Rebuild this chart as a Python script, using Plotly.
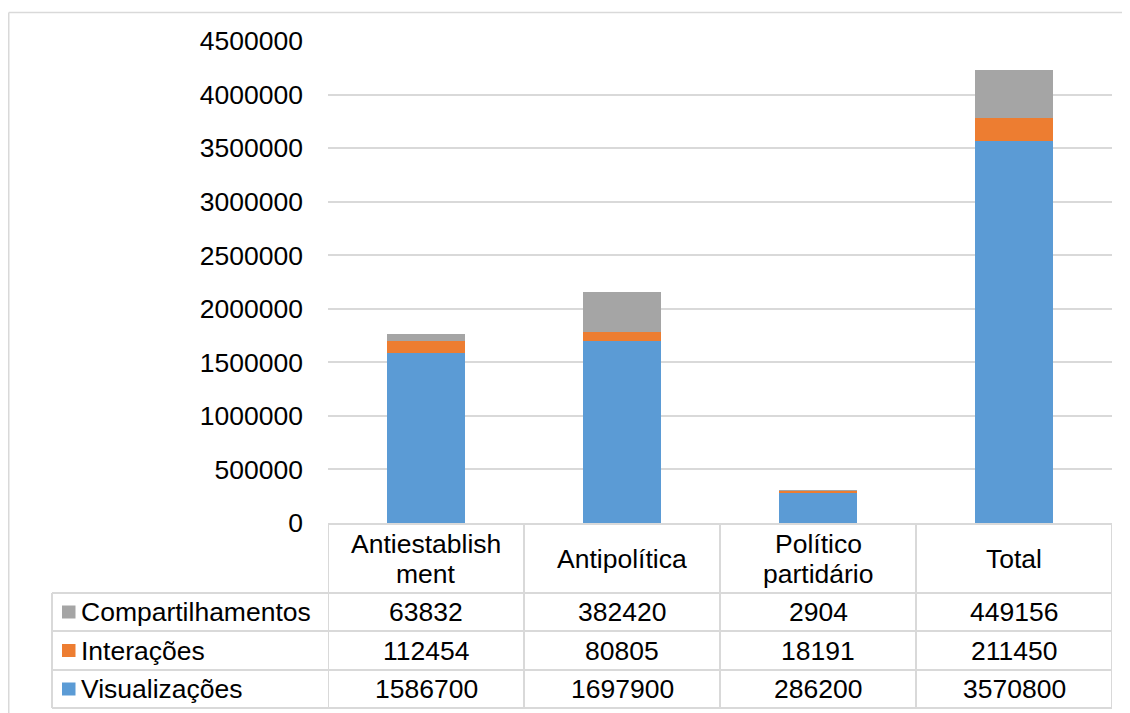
import plotly.graph_objects as go

categories = ["Antiestablishment", "Antipolítica", "Político partidário", "Total"]
category_lines = [["Antiestablish", "ment"], ["Antipolítica"], ["Político", "partidário"], ["Total"]]
series_names = ["Visualizações", "Interações", "Compartilhamentos"]
visualizacoes = [1586700, 1697900, 286200, 3570800]
interacoes = [112454, 80805, 18191, 211450]
compartilhamentos = [63832, 382420, 2904, 449156]
y_ticks = [0, 500000, 1000000, 1500000, 2000000, 2500000, 3000000, 3500000, 4000000, 4500000]

colors = {"Visualizações": "#5B9BD5", "Interações": "#ED7D31", "Compartilhamentos": "#A5A5A5"}
values = {"Visualizações": visualizacoes, "Interações": interacoes, "Compartilhamentos": compartilhamentos}

# page body has an 8px default margin; work in page pixels and offset
OFF = 8
W, H = 1130 - OFF, 713 - OFF
plot_left, plot_right, plot_top, plot_bottom = 328, 1112, 41, 523  # page pixels
L = plot_left - OFF
R = (W + OFF) - plot_right
T = plot_top - OFF
B = (H + OFF) - plot_bottom
PW = W - L - R
PH = H - T - B
FONT = "Liberation Sans, Arial, sans-serif"
FS = 26.5
GRID = "#D9D9D9"


def px_x(px):
    return (px - plot_left) / PW


def px_y(py):
    return (plot_bottom - py) / PH


fig = go.Figure()
for name in series_names:
    fig.add_trace(go.Bar(
        x=categories, y=values[name], name=name,
        marker=dict(color=colors[name], line=dict(width=0)),
        showlegend=False,
    ))

shapes = []
annotations = []

# outer frame (only left and top edges are inside the picture)
shapes.append(dict(type="line", xref="paper", yref="paper",
                   x0=px_x(8.75), x1=px_x(8.75), y0=px_y(713), y1=px_y(12.5),
                   line=dict(color=GRID, width=1.5), layer="below"))
shapes.append(dict(type="line", xref="paper", yref="paper",
                   x0=px_x(8.75), x1=px_x(1130), y0=px_y(12.5), y1=px_y(12.5),
                   line=dict(color=GRID, width=1.5), layer="below"))

# table geometry (page pixels)
header_top, header_bot = 524, 593
row_edges = [593, 631, 670, 708]
table_left = 52
n = len(categories)

lw = 2
shapes.append(dict(type="line", xref="x", yref="paper", x0=-0.5, x1=n - 0.5,
                   y0=px_y(header_top), y1=px_y(header_top), line=dict(color=GRID, width=lw)))
for ry in row_edges:
    shapes.append(dict(type="line", xref="paper", yref="paper", x0=px_x(table_left), x1=1,
                       y0=px_y(ry), y1=px_y(ry), line=dict(color=GRID, width=lw)))
for k in range(n + 1):
    shapes.append(dict(type="line", xref="x", yref="paper", x0=k - 0.5, x1=k - 0.5,
                       y0=px_y(header_top), y1=px_y(row_edges[-1]), line=dict(color=GRID, width=lw)))
shapes.append(dict(type="line", xref="paper", yref="paper", x0=px_x(table_left), x1=px_x(table_left),
                   y0=px_y(row_edges[0]), y1=px_y(row_edges[-1]), line=dict(color=GRID, width=lw)))

# header labels
hc = (header_top + header_bot) / 2
for cat, lines in zip(categories, category_lines):
    offs = [0] if len(lines) == 1 else [-15, 15]
    for line, off in zip(lines, offs):
        annotations.append(dict(x=cat, xref="x", y=px_y(hc + off), yref="paper", text=line,
                                showarrow=False, xanchor="center", yanchor="middle",
                                font=dict(family=FONT, size=FS, color="#000000")))

# rows: top to bottom Compartilhamentos, Interações, Visualizações
row_order = list(reversed(series_names))
for i, name in enumerate(row_order):
    cy = (row_edges[i] + row_edges[i + 1]) / 2
    shapes.append(dict(type="rect", xref="paper", yref="paper",
                       x0=px_x(62), x1=px_x(75.5), y0=px_y(cy + 6.5), y1=px_y(cy - 6.5),
                       line=dict(width=0), fillcolor=colors[name]))
    annotations.append(dict(x=px_x(79), xref="paper", y=px_y(cy), yref="paper", text=name,
                            showarrow=False, xanchor="left", yanchor="middle",
                            font=dict(family=FONT, size=FS, color="#000000")))
    for cat, v in zip(categories, values[name]):
        annotations.append(dict(x=cat, xref="x", y=px_y(cy), yref="paper", text=str(v),
                                showarrow=False, xanchor="center", yanchor="middle",
                                font=dict(family=FONT, size=FS, color="#000000")))

fig.update_layout(
    barmode="stack",
    bargap=0.6,
    width=W, height=H,
    margin=dict(l=L, r=R, t=T, b=B, pad=0),
    paper_bgcolor="white", plot_bgcolor="white",
    font=dict(family=FONT, size=FS, color="#000000"),
    shapes=shapes,
    annotations=annotations,
    xaxis=dict(type="category", range=[-0.5, n - 0.5], showticklabels=False,
               showgrid=False, zeroline=False, showline=False, ticks=""),
    yaxis=dict(range=[0, 4500000], tickvals=y_ticks, ticktext=[str(t) for t in y_ticks],
               showgrid=True, gridcolor=GRID, gridwidth=1.5, zeroline=False, showline=False,
               ticks="", ticklabelstandoff=24, tickfont=dict(family=FONT, size=FS, color="#000000")),
)

fig.write_html("out.html")
